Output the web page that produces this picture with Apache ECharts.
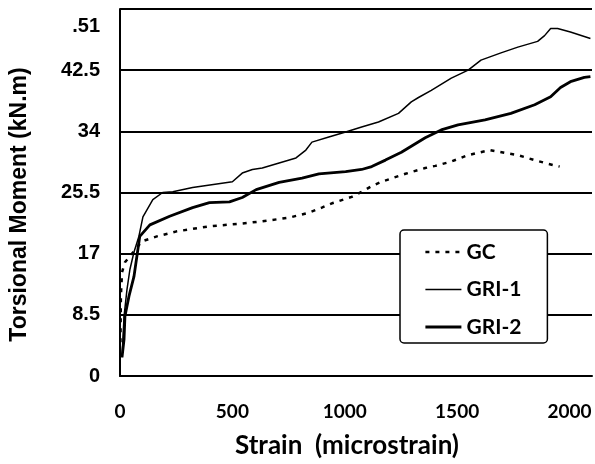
<!DOCTYPE html>
<html>
<head>
<meta charset="utf-8">
<script src="https://cdn.jsdelivr.net/npm/echarts@6/dist/echarts.min.js"></script>
<style>
html,body{margin:0;padding:0;background:#fff;}
#chart{width:595px;height:464px;}
</style>
</head>
<body>
<div id="chart"></div>
<script>
// Data: [strain (microstrain), torsional moment (kN.m)]
const seriesNames = ['GC', 'GRI-1', 'GRI-2'];
const yTicks = [0, 8.5, 17, 25.5, 34, 42.5, 51];
const xTicks = [0, 500, 1000, 1500, 2000];

const gcData = [
  [2, 4.7], [4, 11.1], [9, 14.4], [22, 15.8], [97, 18.7], [164, 19.4], [252, 20.1],
  [398, 20.8], [544, 21.2], [633, 21.5], [752, 22.0], [841, 22.7], [898, 23.4],
  [943, 24.0], [1031, 24.9], [1075, 25.6], [1120, 26.4], [1164, 27.0], [1270, 28.1],
  [1358, 28.9], [1403, 29.2], [1474, 29.8], [1549, 30.7], [1646, 31.4], [1712, 31.0],
  [1770, 30.7], [1845, 30.0], [1903, 29.5], [1956, 29.1]
];
const gri1Data = [
  [9, 2.6], [18, 8.3], [31, 12.0], [44, 14.8], [62, 17.2], [84, 19.4], [102, 22.1],
  [146, 24.5], [190, 25.5], [235, 25.6], [323, 26.2], [500, 27.0], [544, 28.2],
  [589, 28.7], [633, 28.9], [708, 29.6], [783, 30.3], [827, 31.4], [854, 32.5],
  [929, 33.2], [1004, 33.9], [1075, 34.6], [1150, 35.3], [1239, 36.5], [1296, 38.1],
  [1328, 38.7], [1385, 39.7], [1474, 41.4], [1549, 42.5], [1606, 43.9], [1695, 44.9],
  [1770, 45.7], [1858, 46.5], [1889, 47.3], [1916, 48.3], [1947, 48.3], [2004, 47.8],
  [2093, 46.9]
];
const gri2Data = [
  [9, 2.6], [18, 5.1], [22, 8.3], [40, 11.1], [62, 13.8], [75, 16.6], [88, 19.4],
  [133, 21.0], [221, 22.2], [323, 23.4], [398, 24.1], [487, 24.2], [544, 24.8],
  [606, 25.9], [708, 26.9], [810, 27.5], [885, 28.1], [1004, 28.4], [1075, 28.7],
  [1120, 29.1], [1181, 30.0], [1252, 31.1], [1358, 33.1], [1429, 34.2], [1504, 34.9],
  [1624, 35.6], [1739, 36.5], [1845, 37.7], [1916, 38.8], [1960, 40.1], [2004, 40.9],
  [2066, 41.5], [2093, 41.6]
];

const lineWidths = [2.5, 1.5, 2.8];

const chart = echarts.init(document.getElementById('chart'), null, {renderer: 'canvas'});
chart.setOption({
  backgroundColor: '#fff',
  animation: false,
  grid: {left: 120, top: 9, right: 0, bottom: 87, containLabel: false},
  xAxis: {
    type: 'value', min: 0, max: 2100, interval: 500,
    name: 'Strain  (microstrain)', nameLocation: 'middle', nameGap: 57,
    nameTextStyle: {fontFamily: 'Lato', fontWeight: 'bold', fontSize: 26, color: '#000', padding: [0, 18, 0, 0]},
    axisLine: {show: true, lineStyle: {color: '#000', width: 2}},
    axisTick: {show: false},
    splitLine: {show: false},
    axisLabel: {
      margin: 26, color: '#000', fontFamily: 'Lato', fontWeight: 'bold', fontSize: 19,
      formatter: v => (xTicks.indexOf(v) >= 0 ? String(v) : '')
    }
  },
  yAxis: {
    type: 'value', min: 0, max: 51, interval: 8.5,
    name: 'Torsional Moment (kN.m)', nameLocation: 'middle', nameGap: 89, nameRotate: 90,
    nameTextStyle: {fontFamily: 'Liberation Sans', fontWeight: 'bold', fontSize: 23, color: '#000', padding: [0, 24, 0, 0]},
    axisLine: {show: true, lineStyle: {color: '#000', width: 2}},
    axisTick: {show: false},
    splitLine: {show: true, lineStyle: {color: '#000', width: 2}},
    axisLabel: {
      margin: 20, color: '#000', fontFamily: 'Liberation Sans', fontWeight: 'bold', fontSize: 20,
      formatter: v => (yTicks.indexOf(v) < 0 ? '' : (v === 51 ? '{top|.51}' : String(v))),
      rich: {top: {padding: [34, 0, 0, 0], fontFamily: 'Liberation Sans', fontWeight: 'bold', fontSize: 20, color: '#000'}}
    }
  },
  legend: {
    orient: 'vertical', left: 400, top: 230,
    data: seriesNames.map((n, i) => ({
      name: n,
      lineStyle: {width: lineWidths[i], color: '#000', type: i === 0 ? [4, 6] : 'solid'}
    })),
    backgroundColor: '#fff', borderColor: '#000', borderWidth: 1.5, borderRadius: 4,
    padding: [10, 26, 4, 24],
    itemWidth: 36, itemHeight: 14, itemGap: 13.5,
    itemStyle: {opacity: 0},
    textStyle: {fontFamily: 'Lato', fontWeight: 'bold', fontSize: 21, color: '#000', lineHeight: 24}
  },
  series: [
    {name: 'GC', type: 'line', data: gcData, symbol: 'none', smooth: false,
     lineStyle: {color: '#000', width: lineWidths[0], type: [4, 6]}, itemStyle: {color: '#000'}},
    {name: 'GRI-1', type: 'line', data: gri1Data, symbol: 'none',
     lineStyle: {color: '#000', width: lineWidths[1]}, itemStyle: {color: '#000'}},
    {name: 'GRI-2', type: 'line', data: gri2Data, symbol: 'none',
     lineStyle: {color: '#000', width: lineWidths[2]}, itemStyle: {color: '#000'}}
  ]
});
</script>
</body>
</html>
